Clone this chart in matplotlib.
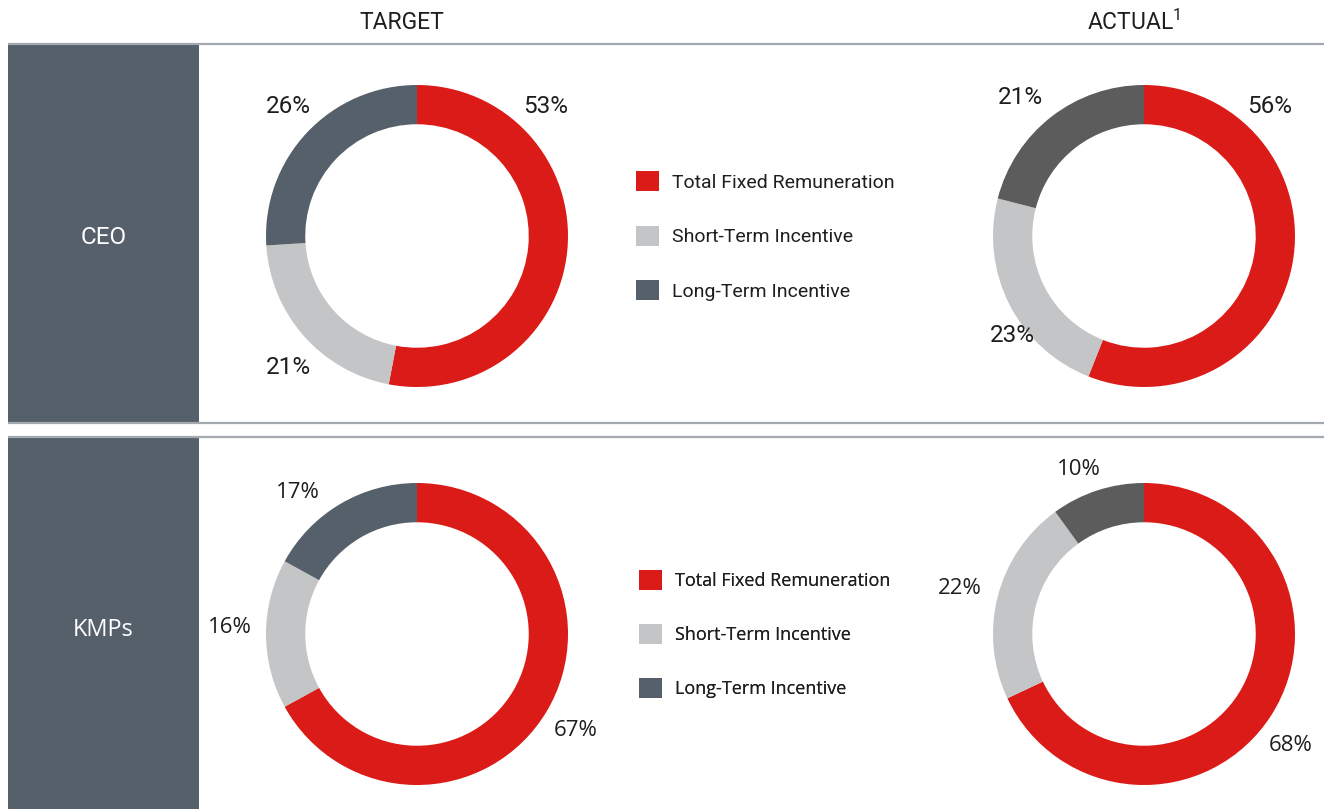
import matplotlib.pyplot as plt
from matplotlib.patches import Rectangle, Patch

plt.rcParams['font.family'] = ['Roboto', 'DejaVu Sans']

# данные
components = ['Total Fixed Remuneration', 'Short-Term Incentive', 'Long-Term Incentive']
rows = ['CEO', 'KMPs']
ceo_target = [53, 21, 26]
ceo_actual = [56, 23, 21]
kmp_target = [67, 16, 17]
kmp_actual = [68, 22, 10]

# оформление
RED = '#db1b17'
LIGHT = '#c4c5c7'
SLATE = '#55606b'
DARK = '#5c5c5c'
LINE = '#a3a9ae'
TXT = '#1e1e1e'
target_colors = [RED, LIGHT, SLATE]
actual_colors = [RED, LIGHT, DARK]
CEO_FONT = ['Roboto', 'DejaVu Sans']
KMP_FONT = ['Open Sans', 'DejaVu Sans']

W, H = 1324, 809
R_PX = 151  # внешний радиус кольца в пикселях

fig = plt.figure(figsize=(W / 100, H / 100), dpi=100)
bg = fig.add_axes([0, 0, 1, 1])
bg.set_xlim(0, W)
bg.set_ylim(H, 0)
bg.axis('off')

# заголовки столбцов
bg.text(402, 22, 'TARGET', ha='center', va='center', fontsize=16.5, color=TXT)
bg.text(1134, 22, 'ACTUAL$^{\\mathregular{1}}$', ha='center', va='center', fontsize=16.5, color=TXT)

# линии и боковые плашки
for y in [44, 423, 437]:
    bg.plot([8, W], [y, y], color=LINE, lw=1.6, solid_capstyle='butt')
bg.add_patch(Rectangle((8, 45), 191, 377, color=SLATE, lw=0))
bg.add_patch(Rectangle((8, 438), 191, 371, color=SLATE, lw=0))
bg.text(104, 237, rows[0], ha='center', va='center', color='white', fontsize=17.5, family=CEO_FONT)
bg.text(103, 630, rows[1], ha='center', va='center', color='white', fontsize=17, family=KMP_FONT)


def donut(cx, cy, values, colors, label_pos, font, size):
    s = 1.6 * R_PX
    ax = fig.add_axes([(cx - s) / W, (H - cy - s) / H, 2 * s / W, 2 * s / H])
    ax.pie(values, colors=colors, startangle=90, counterclock=False, radius=1,
           wedgeprops=dict(width=0.26, linewidth=0))
    ax.set_xlim(-1.6, 1.6)
    ax.set_ylim(-1.6, 1.6)
    ax.set_aspect('equal')
    ax.axis('off')
    for v, (lx, ly) in zip(values, label_pos):
        ax.text(lx, ly, f'{v}%', ha='center', va='center', fontsize=size,
                color=TXT, family=font)


donut(417, 236, ceo_target, target_colors, [(0.85, 0.86), (-0.85, -0.87), (-0.85, 0.86)], CEO_FONT, 17.5)
donut(1144, 236, ceo_actual, actual_colors, [(0.83, 0.86), (-0.87, -0.66), (-0.82, 0.92)], CEO_FONT, 17.5)
donut(417, 634, kmp_target, target_colors, [(1.05, -0.64), (-1.24, 0.04), (-0.79, 0.94)], KMP_FONT, 16)
donut(1144, 634, kmp_actual, actual_colors, [(0.97, -0.74), (-1.22, 0.30), (-0.43, 1.09)], KMP_FONT, 16)

# легенды
handles = [Patch(facecolor=c, edgecolor='none') for c in target_colors]
for lx, ly, font, size in [(636, 236, 'Roboto', 14), (639, 634, 'Open Sans', 13)]:
    leg = bg.legend(handles, components, loc='center left', bbox_to_anchor=(lx, ly),
                    bbox_transform=bg.transData, frameon=False,
                    handlelength=1.19 * 14 / size, handleheight=1.2 * 14 / size,
                    handletextpad=0.68 * 14 / size,
                    labelspacing=1.76 * 14 / size, borderpad=0, borderaxespad=0,
                    prop=dict(size=size, family=font), labelcolor=TXT)
    bg.add_artist(leg)

fig.savefig('out.png', dpi=100)
